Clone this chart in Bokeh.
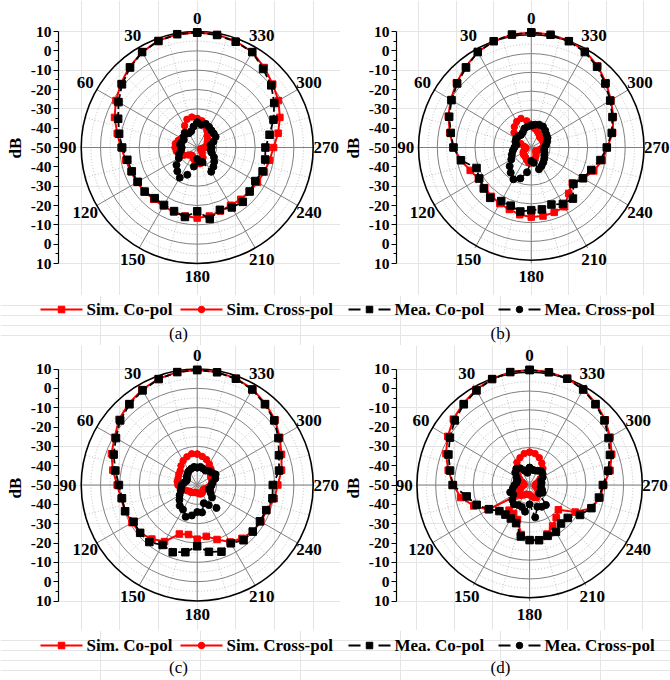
import numpy as np
from bokeh.plotting import figure
from bokeh.layouts import column, row
from bokeh.models import Range1d, LinearAxis, FixedTicker, CustomJSTickFormatter
from bokeh.core.properties import value
from bokeh.embed import file_html
from bokeh.resources import INLINE

# ---------------- data (dB, angles every 10 degrees) ----------------
angles = list(range(0, 360, 10))

a_sim_co = [9.5, 9.5, 8.8, 7.0, 4.5, 1.5, -1.5, -4.5, -8.0, -10.5, -12.5, -13.5, -14.0, -14.5, -15.0, -15.0, -14.5, -14.0,
            -13.5, -14.0, -15.0, -15.5, -15.0, -14.5, -14.0, -13.0, -12.0, -10.5, -7.5, -4.5, -1.5, 1.0, 4.0, 7.0, 8.5, 9.3]
a_mea_co = [9.5, 9.5, 8.6, 7.0, 4.0, 0.8, -3.0, -6.5, -9.0, -11.2, -13.3, -14.0, -14.5, -14.5, -15.8, -15.7, -15.0, -13.5,
            -17.0, -12.5, -15.7, -14.2, -13.3, -14.6, -15.3, -14.0, -14.3, -14.7, -12.0, -8.0, -4.0, 0.0, 3.0, 7.0, 8.2, 9.1]
a_sim_x = [-35, -34, -34.5, -37, -40, -41, -40.5, -39.5, -38.5, -38.5, -39, -40, -42, -44, -45, -45, -44, -43,
           -42, -41.5, -42, -44, -46, -47, -48, -48, -47, -46, -45, -44.5, -44, -43, -42, -40, -38, -36]
a_mea_x = [-37, -39, -41, -41.5, -40, -41, -42, -41.5, -41, -42, -41.5, -40, -39, -36, -34, -32, -35, -40,
           -44, -42.5, -42, -35.5, -37, -38.5, -40, -42, -43, -42.5, -43, -41, -39, -38.8, -38.5, -37.7, -37, -38]

b_sim_co = [9.5, 9.3, 8.5, 7.0, 4.5, 2.0, -0.5, -3.0, -6.0, -8.5, -12.0, -15.4, -17.5, -17.7, -17.0, -16.5, -15.9, -14.7,
            -14.0, -14.0, -14.3, -14.6, -19.0, -21.5, -18.0, -14.6, -11.6, -9.5, -6.0, -3.5, -1.0, 2.0, 5.0, 7.5, 8.8, 9.3]
b_mea_co = [9.5, 9.3, 8.5, 7.0, 4.0, 1.5, -1.0, -3.5, -6.5, -8.6, -12.0, -19.0, -18.0, -17.0, -16.0, -18.0, -18.0, -16.4,
            -17.6, -17.5, -18.6, -16.3, -15.5, -20.7, -18.2, -16.0, -12.6, -9.8, -6.5, -4.0, -1.5, 1.5, 4.5, 7.0, 8.5, 9.2]
b_sim_x = [-38, -36, -34, -34.5, -36, -38, -41, -44, -46, -47, -47, -46, -45, -44.5, -44.5, -44, -43, -42,
           -42, -43, -44, -45, -46, -47, -47, -46, -45, -44, -43, -43, -43, -43, -43, -42, -41, -40]
b_mea_x = [-38.6, -39, -39.5, -41, -41.5, -41, -40.7, -41, -42, -41, -40, -39, -37.7, -35, -33, -31, -33, -37,
           -43, -42, -38, -39, -40, -41, -42, -42.5, -43, -43, -42, -41, -40, -39.5, -38.5, -37.5, -37.5, -38]

c_sim_co = [9.5, 9.3, 8.5, 7.0, 5.0, 2.8, -0.7, -2.8, -5.7, -8.6, -10.0, -10.5, -11.0, -11.5, -13.5, -16.2, -23.0, -24.0,
            -22.0, -23.0, -20.0, -16.0, -14.0, -12.5, -12.0, -11.7, -9.5, -8.3, -5.7, -3.6, -0.7, 2.5, 5.0, 7.3, 8.7, 9.3]
c_mea_co = [9.5, 9.3, 8.3, 6.5, 4.5, 2.0, -1.5, -4.0, -7.0, -9.5, -10.5, -10.3, -12.0, -11.5, -11.5, -14.2, -13.0, -14.7,
            -18.3, -14.9, -13.3, -15.2, -12.7, -12.5, -12.5, -12.0, -10.5, -10.9, -7.0, -5.0, -1.5, 2.0, 4.5, 7.0, 8.5, 9.2]
c_sim_x = [-34, -33.6, -34.5, -35.5, -37, -38.5, -39, -39.5, -39.5, -40, -41, -43, -44, -45, -45, -45.5, -46, -46,
           -46, -45.5, -45, -45, -45.5, -46, -46, -45, -44, -43, -42, -42, -42, -41, -39, -37.5, -36, -35]
c_mea_x = [-41, -40.5, -41, -41.5, -42.3, -43, -44, -44, -43, -42, -41.5, -41, -39.5, -38, -36, -35.3, -32.5, -34,
           -36, -35.6, -40, -38, -34.5, -40, -42, -43.6, -43, -42.5, -42, -40, -39, -40, -40.5, -41.4, -41, -40.5]

d_sim_co = [9.5, 9.3, 8.5, 7.0, 5.0, 3.0, 0.3, -2.6, -6.0, -9.5, -12.7, -18.4, -24.5, -42.0, -33.0, -33.0, -31.0, -24.0,
            -21.5, -21.0, -23.0, -25.5, -28.0, -30.0, -22.0, -15.0, -12.0, -10.5, -6.5, -3.5, -0.5, 2.5, 5.0, 7.3, 8.7, 9.3]
d_mea_co = [9.5, 9.3, 8.3, 6.5, 4.5, 2.0, -1.0, -4.0, -7.0, -9.0, -16.0, -20.0, -25.0, -29.0, -30.0, -30.0, -29.0, -23.0,
            -21.5, -21.0, -22.0, -22.0, -24.0, -23.5, -19.0, -15.0, -12.5, -11.0, -7.5, -4.5, -1.5, 2.0, 4.5, 7.0, 8.5, 9.2]
d_sim_x = [-33, -33.5, -35, -36.5, -39, -42, -44, -46, -47, -47, -46, -45, -44, -43, -43, -44, -45, -45,
           -45, -44, -43, -42.5, -43, -44, -45, -46, -47, -47, -46.5, -45, -43.5, -41, -39, -37, -35, -33.5]
d_mea_x = [-41, -43.6, -42, -40, -39, -40, -42, -43, -43, -42, -41, -39, -40, -38, -37, -38, -37.9, -36,
           -40, -33, -38, -37, -36.5, -43.4, -42, -43, -44, -44, -43.5, -43.5, -42, -41, -40.5, -41.5, -42, -42]

angle_labels = list(range(0, 360, 30))
r_min, r_max = -50, 10
ring_major = [-40, -30, -20, -10, 0]
ring_minor = [-45, -35, -25, -15, -5, 5]
series_labels = ["Sim. Co-pol", "Sim. Cross-pol", "Mea. Co-pol", "Mea. Cross-pol"]
captions = ["(a)", "(b)", "(c)", "(d)"]

RED = "#ff0000"
BLACK = "#000000"
FONT = "Liberation Serif"
K = 116.0 / (r_max - r_min)   # pixels per dB


def to_xy(ang, db, close=True):
    ang = np.asarray(ang, dtype=float)
    rho = np.asarray(db, dtype=float) - r_min
    if close:
        ang = np.append(ang, ang[0])
        rho = np.append(rho, rho[0])
    t = np.radians(ang)
    return -rho * np.sin(t), rho * np.cos(t)


def panel(width, height, cx, cy, axis_x, sim_co, sim_x, mea_co, mea_x):
    p = figure(width=width, height=height, output_backend="svg", toolbar_location=None,
               x_range=Range1d(-(cx - axis_x) / K, (width - cx) / K),
               y_range=Range1d(-(height - cy) / K, cy / K),
               min_border_left=axis_x, min_border_right=0, min_border_top=0, min_border_bottom=0,
               x_axis_location=None, y_axis_location=None)
    p.outline_line_color = None
    span = r_max - r_min
    # grid rings
    p.circle(x=[0] * len(ring_minor), y=[0] * len(ring_minor),
             radius=[r - r_min for r in ring_minor], fill_color=None,
             line_color="#b3b3b3", line_width=0.8, line_dash="1 2")
    # minor spokes
    mang = np.radians(np.arange(15, 360, 30))
    p.segment(x0=0, y0=0, x1=list(-span * np.sin(mang)), y1=list(span * np.cos(mang)),
              line_color="#b3b3b3", line_width=0.8, line_dash="1 2")
    p.circle(x=[0] * len(ring_major), y=[0] * len(ring_major),
             radius=[r - r_min for r in ring_major], fill_color=None,
             line_color="#808080", line_width=1)
    jang = np.radians(np.array(angle_labels, dtype=float))
    p.segment(x0=0, y0=0, x1=list(-span * np.sin(jang)), y1=list(span * np.cos(jang)),
              line_color="#808080", line_width=1)
    p.circle(x=[0], y=[0], radius=[span], fill_color=None, line_color="black", line_width=1.6)
    # angle labels
    lx = list(-(span + 6.8) * np.sin(jang))
    ly = list((span + 6.8) * np.cos(jang))
    p.text(x=lx, y=ly, text=[str(a) for a in angle_labels], text_font=value(FONT),
           text_font_style="bold", text_font_size="17px", text_align="center",
           text_baseline="middle", text_color="black")
    # data
    x, y = to_xy(angles, sim_co)
    p.line(x, y, line_color=RED, line_width=2)
    p.scatter(x, y, marker="square", size=6.5, color=RED)
    x, y = to_xy(angles, sim_x)
    p.line(x, y, line_color=RED, line_width=2)
    p.scatter(x, y, marker="circle", size=6.5, color=RED)
    x, y = to_xy(angles, mea_co)
    p.line(x, y, line_color=BLACK, line_width=1.8, line_dash="6 3")
    p.scatter(x, y, marker="square", size=7.5, color=BLACK)
    x, y = to_xy(angles, mea_x)
    p.line(x, y, line_color=BLACK, line_width=1.5, line_dash="6 3")
    p.scatter(x, y, marker="circle", size=7, color=BLACK)
    # radial dB axis
    ax = LinearAxis(bounds=(-span, span),
                    ticker=FixedTicker(ticks=list(range(-60, 61, 10)), minor_ticks=list(range(-55, 56, 10))),
                    formatter=CustomJSTickFormatter(code="return String(Math.abs(tick) - 50);"),
                    axis_label="dB")
    ax.axis_line_color = "black"
    ax.axis_line_width = 1.2
    ax.major_tick_out = 5
    ax.major_tick_in = 0
    ax.minor_tick_out = 3
    ax.minor_tick_in = 0
    ax.major_label_standoff = 2
    ax.axis_label_standoff = 3
    ax.major_label_text_font = FONT
    ax.major_label_text_font_style = "bold"
    ax.major_label_text_font_size = "15.5px"
    ax.major_label_text_color = "black"
    ax.axis_label_text_font = FONT
    ax.axis_label_text_font_style = "bold"
    ax.axis_label_text_font_size = "17px"
    ax.axis_label_text_color = "black"
    p.add_layout(ax, "left")
    return p


def strip(height, leg_y, cap_y, caps):
    s = figure(width=670, height=height, output_backend="svg", toolbar_location=None,
               x_range=Range1d(0, 670), y_range=Range1d(height, 0),
               min_border_left=0, min_border_right=0, min_border_top=0, min_border_bottom=0,
               x_axis_location=None, y_axis_location=None)
    s.outline_line_color = None
    starts = [40, 180, 348, 498]
    colors = [RED, RED, BLACK, BLACK]
    markers = ["square", "circle", "square", "circle"]
    L = 42
    for x0, lab, c, m in zip(starts, series_labels, colors, markers):
        if c == RED:
            s.line([x0, x0 + L], [leg_y, leg_y], line_color=c, line_width=2)
        else:
            s.segment(x0=[x0, x0 + L - 12], y0=[leg_y, leg_y], x1=[x0 + 12, x0 + L], y1=[leg_y, leg_y],
                      line_color=c, line_width=2)
        s.scatter([x0 + L / 2], [leg_y], marker=m, size=6.5, color=c)
        s.text(x=[x0 + L + 4], y=[leg_y], text=[lab], text_font=value(FONT), text_font_style="bold",
               text_font_size="17px", text_align="left", text_baseline="middle", text_color="black")
    s.text(x=[178, 500], y=[cap_y, cap_y], text=caps, text_font=value(FONT),
           text_font_size="17px", text_align="center", text_baseline="middle", text_color="black")
    return s


pa = panel(340, 295, 196.7, 147, 58, a_sim_co, a_sim_x, a_mea_co, a_mea_x)
pb = panel(330, 295, 186.7, 147, 48, b_sim_co, b_sim_x, b_mea_co, b_mea_x)
s1 = strip(50, 14, 38, captions[:2])
pc = panel(340, 285, 196.7, 139.5, 58, c_sim_co, c_sim_x, c_mea_co, c_mea_x)
pd = panel(330, 285, 185.0, 139.5, 48, d_sim_co, d_sim_x, d_mea_co, d_mea_x)
s2 = strip(50, 15, 37, captions[2:])

layout = column(row(pa, pb, spacing=0), s1, row(pc, pd, spacing=0), s2, spacing=0)
open("out.html", "w").write(file_html(layout, INLINE))
